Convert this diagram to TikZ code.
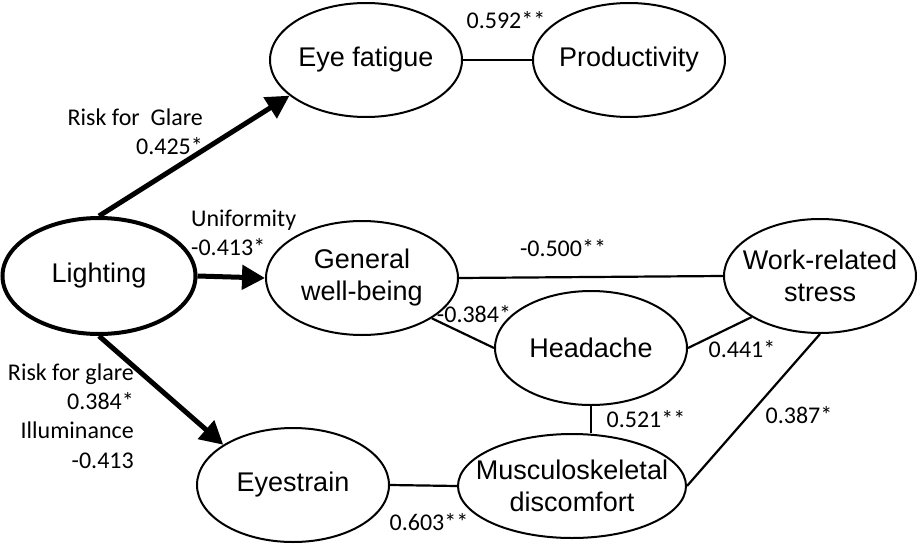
\documentclass[tikz,border=0pt]{standalone}
\usepackage{fontspec}
\setmainfont{Liberation Sans}
\newfontfamily\calib{Carlito}
\usetikzlibrary{shapes.geometric,arrows.meta}

\begin{document}
\begin{tikzpicture}[x=1pt,y=-1pt,
  var/.style={ellipse,draw,line width=2pt,inner xsep=-16pt,inner ysep=0pt,minimum width=192pt,minimum height=114pt,
    align=center,font=\fontsize{27}{32}\selectfont},
  coef/.style={font=\calib\fontsize{24}{29.3}\selectfont,inner sep=0pt},
  link/.style={line width=2.2pt},
  effect/.style={line width=5pt,-{Triangle[length=23pt,width=24pt]}}]
      \useasboundingbox (0,0) rectangle (919,544);
      \node[var,line width=4pt,minimum width=193pt,minimum height=116pt] (lighting) at (99,276) {Lighting};
      \node[var] (eyefat) at (366,60) {Eye fatigue};
      \node[var] (prod) at (629,60) {Productivity};
      \node[var] (general) at (362,278) {General\\well-being};
      \node[var] (work) at (820,276) {Work-related\\stress};
      \node[var] (headache) at (591,348) {Headache};
      \node[var] (eyestrain) at (293,485) {Eyestrain};
      \node[var,minimum width=228pt,minimum height=104pt] (musc) at (572,486) {Musculoskeletal\\discomfort};
      \draw[effect] (lighting.north) -- (eyefat.205);
      \draw[effect] (lighting.east) -- (general.west);
      \draw[effect] (lighting.south) -- (eyestrain.150);
      \draw[link] (eyefat.east) -- (prod.west);
      \draw[link] (general.east) -- (work.west);
      \draw[link] (general.-30) -- (headache.west);
      \draw[link] (headache.east) -- (work.211);
      \draw[link] (headache.south) -- (headache.south |- musc.north);
      \draw[link] (work.south) -- (musc.east);
      \draw[link] (eyestrain.east) -- (musc.west);
      \node[coef] (c1) at (506,20) {0.592**};
      \node[coef,align=right,anchor=east] (c2) at (203,132) {Risk for\ \ Glare\\0.425*};
      \node[coef,align=left,anchor=west] (c3) at (191,233) {Uniformity\\-0.413*};
      \node[coef,align=right,anchor=east] (c4) at (134,416) {Risk for glare\\0.384*\\Illuminance\\-0.413};
      \node[coef] (c5) at (563,248) {-0.500**};
      \node[coef] (c6) at (474,314) {-0.384*};
      \node[coef] (c7) at (742,349) {0.441*};
      \node[coef] (c8) at (646,419) {0.521**};
      \node[coef] (c9) at (799,415) {0.387*};
      \node[coef] (c10) at (429,522) {0.603**};
\end{tikzpicture}
\end{document}
